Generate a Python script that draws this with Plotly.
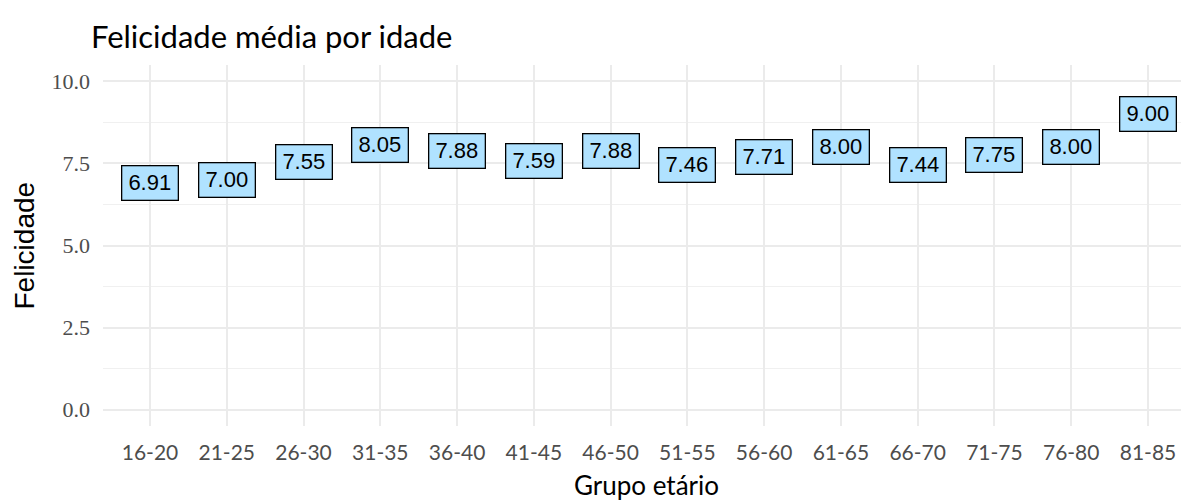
import plotly.graph_objects as go

categories = ["16-20", "21-25", "26-30", "31-35", "36-40", "41-45", "46-50",
              "51-55", "56-60", "61-65", "66-70", "71-75", "76-80", "81-85"]
felicidade = [6.91, 7.00, 7.55, 8.05, 7.88, 7.59, 7.88, 7.46, 7.71, 8.00, 7.44, 7.75, 8.00, 9.00]
y_ticks = [0, 2.5, 5.0, 7.5, 10.0]

W, H = 1181, 501
L, R, T, B = 103, 0, 64.5, 74.5

fig = go.Figure()
# invisible points to establish positions
fig.add_trace(go.Scatter(x=categories, y=felicidade, mode="markers",
                         marker=dict(opacity=0), hoverinfo="x+y", showlegend=False))

for c, v in zip(categories, felicidade):
    fig.add_annotation(x=c, y=v, xref="x", yref="y", text=f"{v:.2f}",
                       showarrow=False, font=dict(family="Liberation Sans", size=22, color="black"),
                       bgcolor="#B0E2FF", bordercolor="black", borderwidth=1.3,
                       borderpad=3, width=49, height=27, xanchor="center", yanchor="middle")

# axis titles
fig.add_annotation(text="Felicidade", xref="paper", yref="paper", x=0, y=0.5,
                   xshift=-79, textangle=-90, showarrow=False, xanchor="center", yanchor="middle",
                   font=dict(family="Liberation Sans", size=28, color="black"))
fig.add_annotation(text="Grupo etário", xref="paper", yref="paper", x=0.5, y=0,
                   xshift=4, yshift=-58.5, showarrow=False, xanchor="center", yanchor="middle",
                   font=dict(family="Lato", size=26, color="black"))

fig.update_layout(
    width=W, height=H,
    margin=dict(l=L, r=R, t=T, b=B),
    paper_bgcolor="white", plot_bgcolor="white",
    title=dict(text="Felicidade média por idade", xref="container", yref="container",
               x=91 / W, xanchor="left", y=1 - 37 / H, yanchor="middle",
               font=dict(family="Lato", size=31, color="black")),
    xaxis=dict(type="category", categoryorder="array", categoryarray=categories,
               range=[-0.612, 13.43], showgrid=True, gridcolor="#EBEBEB", gridwidth=1.5,
               zeroline=False, showline=False, ticks="", ticklabelstandoff=12,
               tickfont=dict(family="Lato", size=21, color="#4D4D4D")),
    yaxis=dict(range=[-0.5, 10.5], tickvals=y_ticks, tickformat=".1f",
               showgrid=True, gridcolor="#EBEBEB", gridwidth=1.5,
               minor=dict(dtick=1.25, tick0=0, showgrid=True, gridcolor="#F0F0F0", gridwidth=1),
               zeroline=False, showline=False, ticks="", ticklabelstandoff=12,
               tickfont=dict(family="Liberation Serif", size=22, color="#4D4D4D")),
)

fig.write_html("out.html", config={"displayModeBar": False},
               post_script="document.body.style.margin='0';document.body.style.overflow='hidden';")
